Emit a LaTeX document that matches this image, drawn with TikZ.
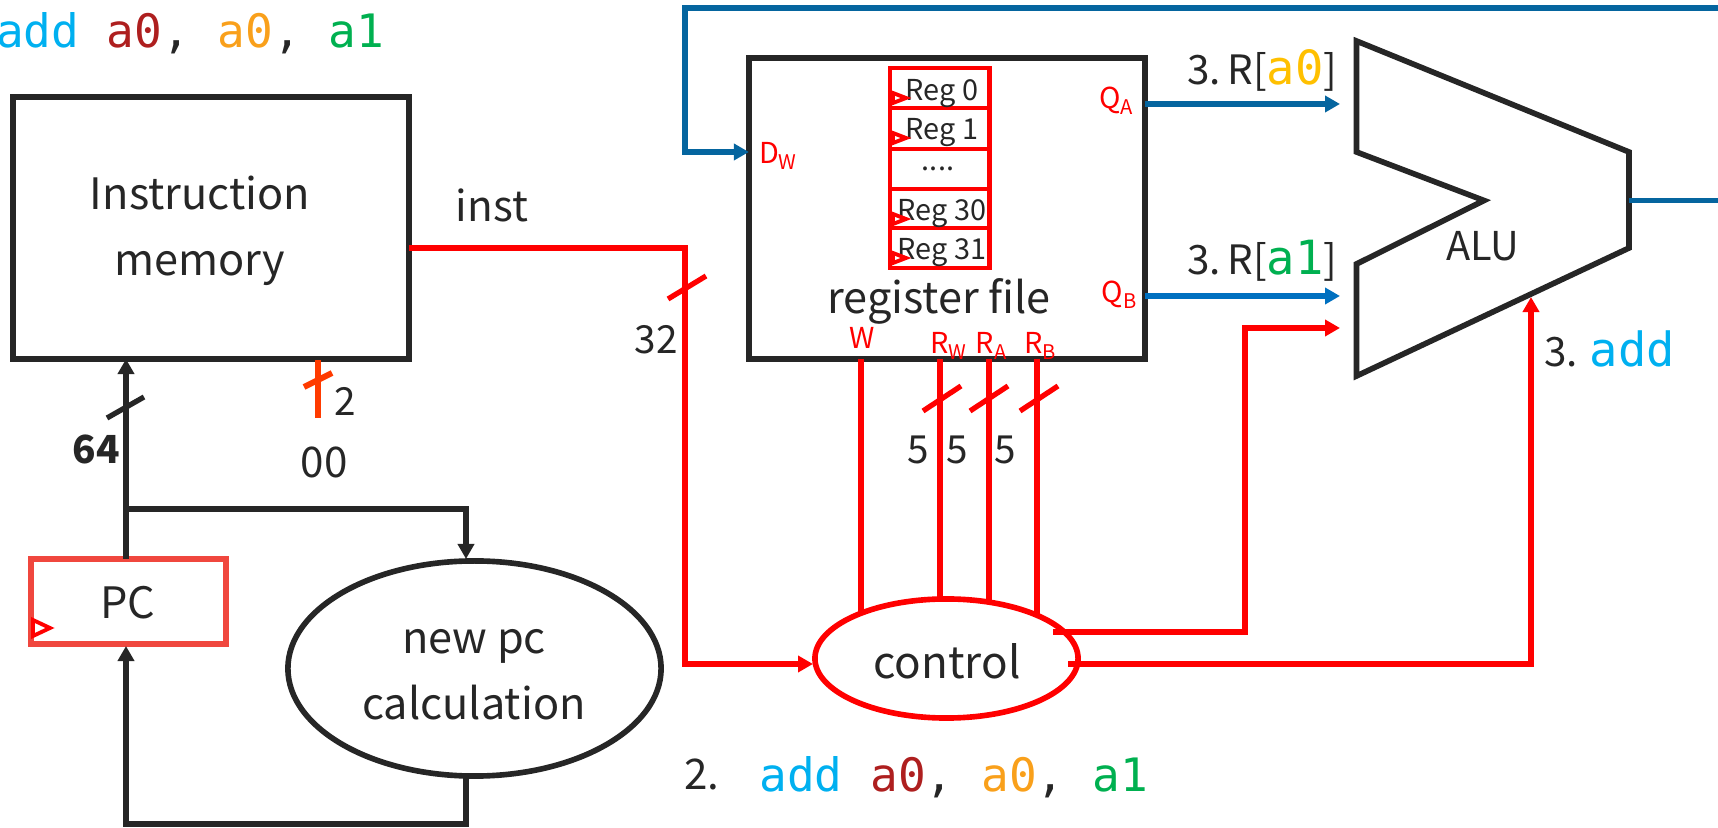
\documentclass[tikz,border=0pt]{standalone}
\usepackage{fontspec}
\setmainfont{Noto Sans CJK SC}
\newfontfamily\codefont{DejaVu Sans Mono}
\usetikzlibrary{arrows.meta,shapes.geometric}

\definecolor{ink}{HTML}{262626}
\definecolor{wirered}{HTML}{FF0000}
\definecolor{wireblue}{HTML}{05659F}
\definecolor{wireblueb}{HTML}{0070C0}
\definecolor{pcred}{HTML}{F0473E}
\definecolor{markred}{HTML}{FF3B00}
\definecolor{opblue}{HTML}{00B0F0}
\definecolor{rdred}{HTML}{AE1F1F}
\definecolor{rsorange}{HTML}{F9A01B}
\definecolor{rsgold}{HTML}{FFC000}
\definecolor{rtgreen}{HTML}{00B050}

\newcommand{\fsize}[1]{\fontsize{#1}{#1}\selectfont}
\newcommand{\asmline}{\codefont\textcolor{opblue}{add} \textcolor{rdred}{a0}, \textcolor{rsorange}{a0}, \textcolor{rtgreen}{a1}}

\tikzset{
  txt/.style={anchor=base,text=ink,inner sep=0pt,outer sep=0pt,font=\fsize{12.3}},
  small/.style={anchor=base,text=ink,inner sep=0pt,outer sep=0pt,font=\fsize{8.2}},
  pin/.style={anchor=base,text=wirered,inner sep=0pt,outer sep=0pt,font=\fsize{8.2}},
  blackbox/.style={draw=ink,line width=1.6pt,rectangle,inner sep=0pt,outer sep=0pt},
  regcell/.style={draw=wirered,line width=1.4pt,rectangle,inner sep=0pt,outer sep=0pt,minimum width=0.99cm},
  blob/.style={ellipse,line width=1.6pt,inner sep=0pt,outer sep=0pt},
  wire/.style={line width=1.5pt,-{Triangle[length=1.5mm,width=1.6mm]}},
  plain/.style={line width=1.5pt},
  clk/.style={draw=wirered,line width=1.1pt},
}

\begin{document}
\begin{tikzpicture}[x=0.01cm,y=-0.01cm]
    \useasboundingbox (0,0) rectangle (1718,828);

    % instruction fetch
    \node[blackbox,minimum width=3.96cm,minimum height=2.62cm] (imem) at (211,228) {};
    \node[txt] at (200,210) {Instruction};
    \node[txt] at (200,276) {memory};
    \node[draw=pcred,line width=1.6pt,inner sep=0pt,outer sep=0pt,minimum width=1.95cm,minimum height=0.85cm] (pc) at (128.5,601.5) {};
    \node[txt] at (128,619) {PC};
    \draw[clk] (33,620) -- (50,628) -- (33,636) -- cycle;
    \node[blob,draw=ink,minimum width=3.73cm,minimum height=2.15cm] (newpc) at (474.5,668.5) {};
    \node[txt] at (474,654) {new pc};
    \node[txt] at (474,720) {calculation};

    \coordinate (fetch) at (126,509);
    \draw[wire,ink] (126,559) -- (126,359);
    \draw[wire,ink] (fetch) -- (466,509) -- (466,559);
    \draw[wire,ink] (466,776) -- (466,824) -- (126,824) -- (126,646);
    \draw[plain,ink] (107,418) -- (144,397);
    \node[txt,font=\fsize{11}\bfseries] at (96,464) {64};
    \draw[line width=1.7pt,markred] (318,360) -- (318,418);
    \draw[line width=1.7pt,markred] (304,387) -- (332,373);
    \node[small,font=\fsize{11}] at (345,416) {2};
    \node[small,font=\fsize{12}] at (324,478) {00};

    % register file
    \node[blackbox,minimum width=3.96cm,minimum height=3.01cm] (regfile) at (947,208.5) {};
    \node[regcell,minimum height=0.40cm] (reg0) at (939.5,88) {};
    \node[regcell,minimum height=0.41cm] (reg1) at (939.5,128.5) {};
    \node[regcell,minimum height=0.40cm] (regdots) at (939.5,169) {};
    \node[regcell,minimum height=0.39cm] (reg30) at (939.5,208.5) {};
    \node[regcell,minimum height=0.40cm] (reg31) at (939.5,248) {};
    \node[small] at (942,101) {Reg 0};
    \node[small] at (942,140) {Reg 1};
    \node[small] at (938,171) {....};
    \node[small] at (942,221) {Reg 30};
    \node[small] at (942,260) {Reg 31};
    \draw[clk] (893,93) -- (906,98) -- (893,103) -- cycle;
    \draw[clk] (893,133) -- (906,138) -- (893,143) -- cycle;
    \draw[clk] (893,214) -- (906,219) -- (893,224) -- cycle;
    \draw[clk] (893,253) -- (906,258) -- (893,263) -- cycle;
    \node[txt] at (939,314) {register file};
    \node[pin,anchor=base west] (dw) at (759,164) {D\textsubscript{W}};
    \node[pin] (qa) at (1117,109) {Q\textsubscript{A}};
    \node[pin] (qb) at (1120,303) {Q\textsubscript{B}};
    \node[pin] (w) at (862,349) {W};
    \node[pin] (rw) at (949,354) {R\textsubscript{W}};
    \node[pin] (ra) at (992,354) {R\textsubscript{A}};
    \node[pin] (rb) at (1041,354) {R\textsubscript{B}};

    % control
    \node[blob,draw=wirered,minimum width=2.63cm,minimum height=1.19cm] (ctrl) at (946.5,658.5) {};
    \node[txt,font=\fsize{12.5}] at (947,679) {control};
    \coordinate (ctrlin) at (813,664);
    \coordinate (pinw) at (861,359);
    \coordinate (pinrw) at (940,359);
    \coordinate (pinra) at (989,359);
    \coordinate (pinrb) at (1037,359);
    \draw[plain,wirered] (pinw) -- (pinw |- ctrl.152);
    \draw[plain,wirered] (pinrw) -- (pinrw |- ctrl.north);
    \draw[plain,wirered] (pinra) -- (pinra |- ctrl.53);
    \draw[plain,wirered] (pinrb) -- (pinrb |- ctrl.26);
    \draw[plain,wirered] (923,411) -- (961,386);
    \draw[plain,wirered] (970,411) -- (1008,386);
    \draw[plain,wirered] (1020,411) -- (1058,386);
    \node[small,font=\fsize{11}] at (918,464) {5};
    \node[small,font=\fsize{11}] at (957,464) {5};
    \node[small,font=\fsize{11}] at (1005,464) {5};
    \draw[wire,wirered] (imem.east |- 0,248) -- (685,248) -- (685,664) -- (ctrlin);
    \draw[plain,wirered] (668,299) -- (706,276);
    \node[small,font=\fsize{11}] at (656,354) {32};
    \node[txt,font=\fsize{12}] at (492,222) {inst};

    % alu
    \draw[blackbox] (1356.5,41) -- (1629,152) -- (1629,248) -- (1356.5,376) -- (1356.5,264) -- (1484,200.5) -- (1356.5,152) -- cycle;
    \node[small,font=\fsize{11.3}] at (1483,261) {ALU};
    \coordinate (aluA) at (1340,104);
    \coordinate (aluB) at (1340,296);
    \coordinate (aluC) at (1340,328);
    \coordinate (aluD) at (1531,297);
    \draw[wire,wireblue] (regfile.east |- aluA) -- (aluA);
    \draw[wire,wireblueb] (regfile.east |- aluB) -- (aluB);
    \draw[wire,wirered] (1053,632) -- (1245,632) -- (1245,328) -- (aluC);
    \draw[wire,wirered] (1068,664) -- (1531,664) -- (aluD);
    \draw[plain,wireblue] (1629,200.5) -- (1718,200.5);
    \draw[wire,wireblue] (1718,8) -- (685,8) -- (685,152) -- (regfile.west |- 0,152);
    \node[small,font=\fsize{11.5},anchor=base west] at (1187,85) {3.\,R[\textcolor{rsgold}{\fsize{13.4}\codefont a0}]};
    \node[small,font=\fsize{11.5},anchor=base west] at (1187,275) {3.\,R[\textcolor{rtgreen}{\fsize{13.4}\codefont a1}]};
    \node[small,font=\fsize{11.5},anchor=base west] at (1544,367) {3. \textcolor{opblue}{\fsize{13.4}\codefont add}};

    % instruction text
    \node[txt,font=\fsize{13.1},anchor=base west] at (-4,48) {\asmline};
    \node[small,font=\fsize{12},anchor=base west] at (684,789) {2.};
    \node[txt,font=\fsize{13.1},anchor=base west] at (759.5,791) {\asmline};
  \end{tikzpicture}
\end{document}
